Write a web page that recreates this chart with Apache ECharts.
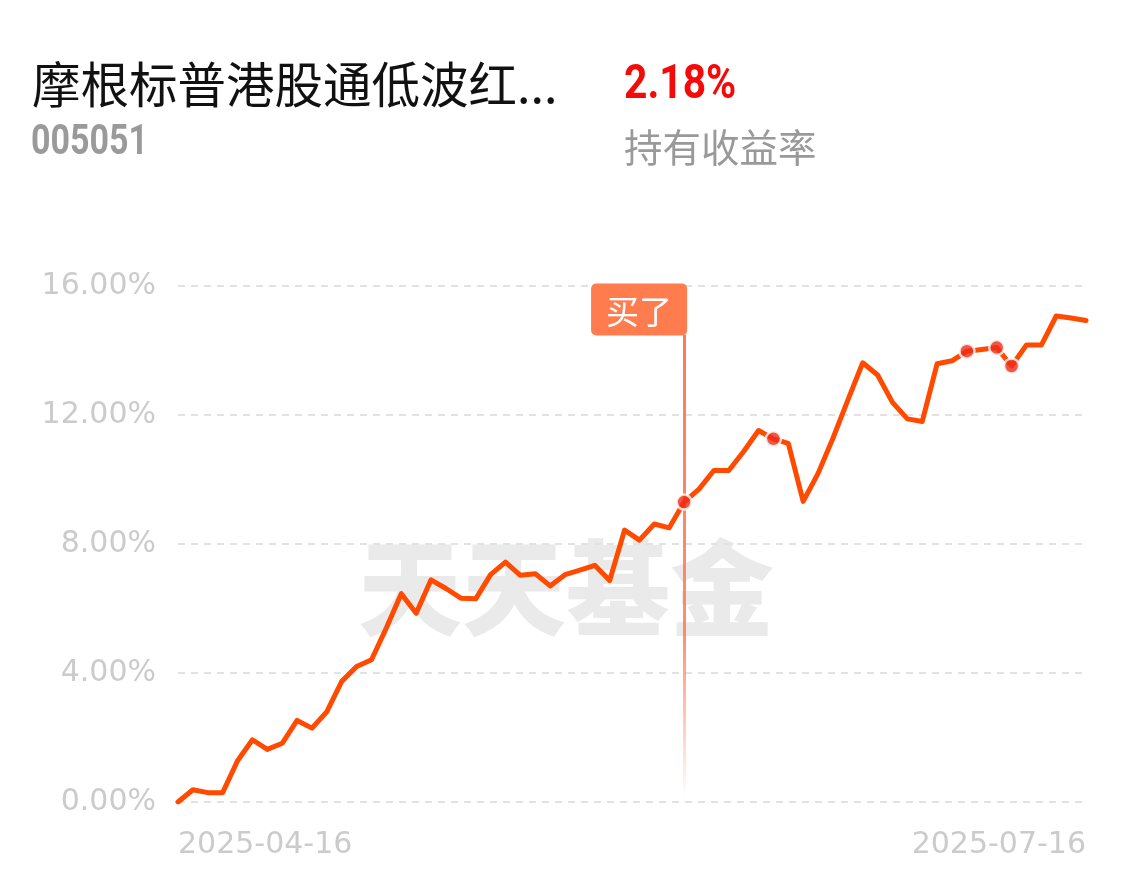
<!DOCTYPE html>
<html>
<head>
<meta charset="utf-8">
<script src="https://cdn.jsdelivr.net/npm/echarts@6/dist/echarts.min.js"></script>
<style>
html,body{margin:0;padding:0;background:#fff;}
#chart{width:1130px;height:876px;}
</style>
</head>
<body>
<div id="chart"></div>
<script>
const dates = [
  '2025-04-16','2025-04-17','2025-04-18','2025-04-21','2025-04-22','2025-04-23','2025-04-24','2025-04-25','2025-04-28','2025-04-29','2025-04-30',
  '2025-05-06','2025-05-07','2025-05-08','2025-05-09','2025-05-12','2025-05-13','2025-05-14','2025-05-15','2025-05-16','2025-05-19','2025-05-20','2025-05-21','2025-05-22','2025-05-23','2025-05-26','2025-05-27','2025-05-28','2025-05-29','2025-05-30',
  '2025-06-03','2025-06-04','2025-06-05','2025-06-06','2025-06-09','2025-06-10','2025-06-11','2025-06-12','2025-06-13','2025-06-16','2025-06-17','2025-06-18','2025-06-19','2025-06-20','2025-06-23','2025-06-24','2025-06-25','2025-06-26','2025-06-27','2025-06-30',
  '2025-07-01','2025-07-02','2025-07-03','2025-07-04','2025-07-07','2025-07-08','2025-07-09','2025-07-10','2025-07-11','2025-07-14','2025-07-15','2025-07-16'
];
const returns = [
  0.00, 0.38, 0.29, 0.29, 1.28, 1.93, 1.63, 1.82, 2.53, 2.29,
  2.80, 3.74, 4.20, 4.41, 5.40, 6.46, 5.85, 6.89, 6.62, 6.32,
  6.30, 7.05, 7.44, 7.03, 7.08, 6.70, 7.05, 7.19, 7.34, 6.87,
  8.43, 8.12, 8.62, 8.50, 9.30, 9.70, 10.28, 10.28, 10.87, 11.52,
  11.26, 11.12, 9.32, 10.19, 11.28, 12.46, 13.62, 13.24, 12.39, 11.88,
  11.80, 13.59, 13.68, 13.98, 14.03, 14.09, 13.52, 14.17, 14.17, 15.07,
  15.01, 14.93
];
const yTicks = [0, 4, 8, 12, 16];
const buyIndex = 34;
const tradeIndices = [34, 40, 53, 55, 56];
const fundName = '摩根标普港股通低波红...';
const fundCode = '005051';
const holdReturn = '2.18%';
const holdReturnLabel = '持有收益率';
const buyLabel = '买了';
const watermark = '天天基金';

const chart = echarts.init(document.getElementById('chart'), null, {renderer: 'canvas'});
const lastIdx = dates.length - 1;

chart.setOption({
  animation: false,
  backgroundColor: '#ffffff',
  grid: {left: 178, right: 44, top: 286, bottom: 74, containLabel: false},
  graphic: [
    {type: 'text', x: 32, y: 85, z: 10, style: {text: fundName, font: '48.5px "Noto Sans CJK SC"', fill: '#111111', textVerticalAlign: 'middle'}},
    {type: 'text', x: 31, y: 143.5, z: 10, scaleX: 0.81, style: {text: fundCode, font: 'bold 42px Roboto', fill: '#9a9a9a', textVerticalAlign: 'middle'}},
    {type: 'text', x: 624, y: 85.5, z: 10, scaleX: 0.85, style: {text: holdReturn, font: 'bold 48px Roboto', fill: '#f50a0a', textVerticalAlign: 'middle'}},
    {type: 'text', x: 624, y: 147, z: 10, style: {text: holdReturnLabel, font: '38.5px "Noto Sans CJK SC"', fill: '#999999', textVerticalAlign: 'middle'}},
    {type: 'text', x: 566, y: 588, z: 0, silent: true, style: {text: watermark, font: '900 104px "Noto Sans CJK SC"', fill: '#eaeaea', textAlign: 'center', textVerticalAlign: 'middle'}}
  ],
  xAxis: {
    type: 'category',
    data: dates,
    boundaryGap: false,
    axisLine: {show: false},
    axisTick: {show: false},
    splitLine: {show: false},
    axisLabel: {
      interval: function (idx) { return idx === 0 || idx === lastIdx; },
      showMinLabel: true,
      showMaxLabel: true,
      alignMinLabel: 'left',
      alignMaxLabel: 'right',
      margin: 28,
      color: '#cbcbcb',
      fontSize: 30,
      fontFamily: 'DejaVu Sans'
    }
  },
  yAxis: {
    type: 'value',
    min: yTicks[0],
    max: yTicks[yTicks.length - 1],
    interval: 4,
    axisLine: {show: false},
    axisTick: {show: false},
    axisLabel: {
      formatter: function (v) { return v.toFixed(2) + '%'; },
      color: '#cbcbcb',
      fontSize: 30,
      fontFamily: 'DejaVu Sans',
      margin: 22
    },
    splitLine: {lineStyle: {color: '#e2e2e2', width: 2, type: [7, 6]}}
  },
  series: [
    {
      type: 'line',
      data: returns,
      z: 3,
      symbol: 'none',
      smooth: false,
      lineStyle: {color: '#ff4a00', width: 5, join: 'round', cap: 'round'},
      markLine: {
        silent: true,
        symbol: ['none', 'none'],
        z: 2,
        label: {show: false},
        lineStyle: {
          type: 'solid',
          width: 3,
          color: {
            type: 'linear', x: 0, y: 0, x2: 0, y2: 1,
            colorStops: [
              {offset: 0, color: 'rgba(255,115,75,0.95)'},
              {offset: 0.65, color: 'rgba(255,115,75,0.8)'},
              {offset: 1, color: 'rgba(255,115,75,0)'}
            ]
          }
        },
        data: [[{coord: [buyIndex, 14.5]}, {coord: [buyIndex, 0.2]}]]
      },
      markPoint: {
        silent: true,
        z: 5,
        data: [{
          coord: [buyIndex, 15.27],
          symbol: 'path://M5,0H91A5,5 0 0 1 96,5V47A5,5 0 0 1 91,52H5A5,5 0 0 1 0,47V5A5,5 0 0 1 5,0Z',
          symbolKeepAspect: false,
          symbolSize: [96, 52],
          symbolOffset: [-45, 0],
          itemStyle: {color: '#ff7c4f'},
          label: {show: true, formatter: buyLabel, color: '#ffffff', fontSize: 33, fontFamily: 'Noto Sans CJK SC', position: 'inside', offset: [0, 2]}
        }]
      }
    },
    {
      type: 'scatter',
      z: 4,
      data: tradeIndices.map(function (i) { return [i, returns[i]]; }),
      symbol: 'circle',
      symbolSize: 15,
      itemStyle: {color: '#ee2a16', borderColor: '#ffffff', borderWidth: 2.5}
    }
  ]
});
</script>
</body>
</html>
